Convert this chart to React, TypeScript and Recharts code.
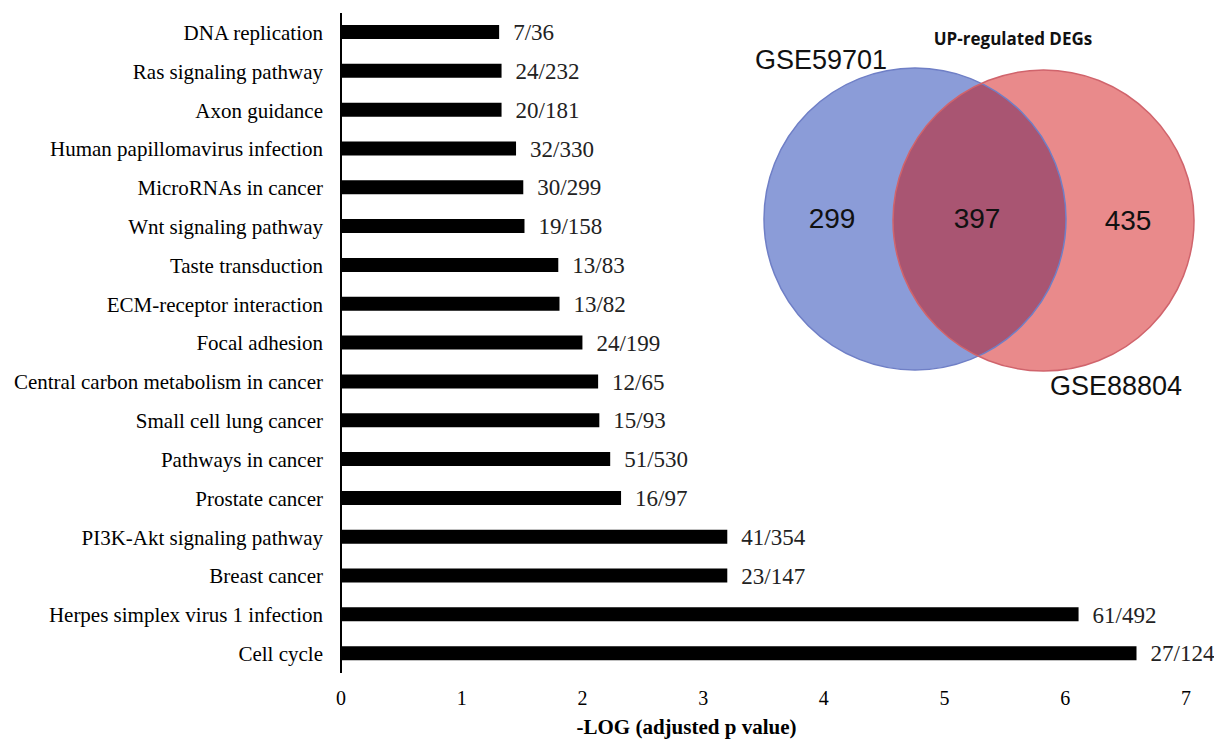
import { BarChart, Bar, XAxis, YAxis, LabelList, Label } from 'recharts'

const pathways = [
  'DNA replication',
  'Ras signaling pathway',
  'Axon guidance',
  'Human papillomavirus infection',
  'MicroRNAs in cancer',
  'Wnt signaling pathway',
  'Taste transduction',
  'ECM-receptor interaction',
  'Focal adhesion',
  'Central carbon metabolism in cancer',
  'Small cell lung cancer',
  'Pathways in cancer',
  'Prostate cancer',
  'PI3K-Akt signaling pathway',
  'Breast cancer',
  'Herpes simplex virus 1 infection',
  'Cell cycle',
]
const negLogP = [1.31, 1.33, 1.33, 1.45, 1.51, 1.52, 1.8, 1.81, 2.0, 2.13, 2.14, 2.23, 2.32, 3.2, 3.2, 6.11, 6.59]
const geneRatios = [
  '7/36', '24/232', '20/181', '32/330', '30/299', '19/158', '13/83', '13/82', '24/199',
  '12/65', '15/93', '51/530', '16/97', '41/354', '23/147', '61/492', '27/124',
]
const xTicks = [0, 1, 2, 3, 4, 5, 6, 7]
const xTitle = '-LOG (adjusted p value)'

const vennTitle = 'UP-regulated DEGs'
const vennSets = ['GSE59701', 'GSE88804']
const vennCounts = [299, 397, 435] // left only, shared, right only

const data = pathways.map((name, i) => ({ name, value: negLogP[i], ratio: geneRatios[i] }))

const serif = '"Liberation Serif", "Times New Roman", serif'
const sans = '"Liberation Sans", Arial, sans-serif'

function XTitle(props: any) {
  const vb = props.viewBox || {}
  // title sits left of the axis centre in the original
  const cx = vb.x + vb.width / 2 - 77
  return (
    <text x={cx} y={vb.y + vb.height - 12} textAnchor="middle" fontFamily={serif} fontSize={21} fontWeight="bold" fill="#000">
      {xTitle}
    </text>
  )
}

function Venn() {
  const left = { cx: 915, cy: 219, r: 151 }
  const right = { cx: 1043.5, cy: 220.5, r: 150.5 }
  return (
    <svg width={1214} height={746} style={{ position: 'absolute', left: 0, top: 0, pointerEvents: 'none' }}>
      <defs>
        <clipPath id="leftClip">
          <circle cx={left.cx} cy={left.cy} r={left.r} />
        </clipPath>
      </defs>
      <circle {...left} fill="#8b9cd8" />
      <circle {...right} fill="#e98a8b" />
      <circle {...right} fill="#a95572" clipPath="url(#leftClip)" />
      <circle {...left} fill="none" stroke="#6f7fc6" strokeWidth={1.5} />
      <circle {...right} fill="none" stroke="#d0646c" strokeWidth={1.5} />
      <text x={1013} y={45} textAnchor="middle" fontFamily='"Open Sans", sans-serif' fontWeight="bold" fontSize={17} fill="#111">
        {vennTitle}
      </text>
      <text x={755} y={69} fontFamily={sans} fontSize={27} fill="#111">{vennSets[0]}</text>
      <text x={1050} y={395} fontFamily={sans} fontSize={27} fill="#111">{vennSets[1]}</text>
      <text x={832} y={228} textAnchor="middle" fontFamily={sans} fontSize={28} fill="#111">{vennCounts[0]}</text>
      <text x={977} y={228} textAnchor="middle" fontFamily={sans} fontSize={28} fill="#111">{vennCounts[1]}</text>
      <text x={1128} y={230} textAnchor="middle" fontFamily={sans} fontSize={28} fill="#111">{vennCounts[2]}</text>
    </svg>
  )
}

export default function App() {
  return (
    <div style={{ position: 'absolute', left: 0, top: 0, width: 1214, height: 746, background: '#fff' }}>
      <BarChart width={1214} height={746} data={data} layout="vertical" margin={{ top: 13, right: 28, bottom: 0, left: 0 }}>
        <XAxis
          type="number"
          domain={[0, 7]}
          ticks={xTicks}
          axisLine={false}
          tickLine={false}
          tickSize={6}
          tickMargin={12}
          height={73}
          tick={{ fontSize: 20, fontFamily: serif, fill: '#000' }}
        >
          <Label content={XTitle} />
        </XAxis>
        <YAxis
          type="category"
          dataKey="name"
          width={341}
          interval={0}
          tickLine={false}
          tickSize={6}
          tickMargin={12}
          axisLine={{ stroke: '#000', strokeWidth: 2 }}
          tick={{ fontSize: 21, fontFamily: serif, fill: '#000' }}
        />
        <Bar dataKey="value" fill="#000" barSize={14} isAnimationActive={false}>
          <LabelList dataKey="ratio" position="right" offset={14} fontSize={23} fontFamily={serif} fill="#222" />
        </Bar>
      </BarChart>
      <Venn />
    </div>
  )
}
